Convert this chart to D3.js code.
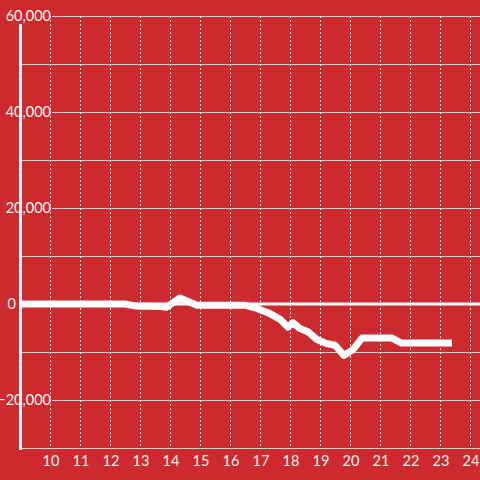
<!DOCTYPE html>
<html><head><meta charset="utf-8">
<script src="https://cdn.jsdelivr.net/npm/d3@7"></script>
<style>html,body{margin:0;padding:0;background:#cc2a2f;}svg{display:block;}</style>
</head><body>
<script>
const xVals = [9, 12.5, 12.83, 13.67, 13.87, 14.33, 14.9, 16.5, 16.83, 17.33, 17.67, 17.93, 18.1, 18.33, 18.6, 18.9, 19.2, 19.5, 19.8, 20.1, 20.4, 21.4, 21.7, 23.4];
const yVals = [0, 0, -400, -500, -700, 1250, -250, -250, -800, -2000, -3200, -4800, -3900, -5100, -5800, -7400, -8200, -8600, -10700, -9500, -7100, -7100, -8100, -8100];
const xTicks = [10,11,12,13,14,15,16,17,18,19,20,21,22,23,24];
const yTickLabels = [60000, 40000, 20000, 0, -20000];
const yGrid = [60000,50000,40000,30000,20000,10000,-10000,-20000,-30000];

const W=480,H=480, bg="#cc2a2f";
const x = d3.scaleLinear().domain([9, 24.333]).range([20, 480]);
const y = d3.scaleLinear().domain([-30000, 60000]).range([448, 16]);
const svg = d3.select("body").append("svg").attr("width",W).attr("height",H);
svg.append("rect").attr("width",W).attr("height",H).attr("fill",bg);

svg.selectAll(".hg").data(yGrid).enter().append("line")
  .attr("x1",d=>yTickLabels.includes(d)?52:20).attr("x2",480)
  .attr("y1",d=>y(d)+0.5).attr("y2",d=>y(d)+0.5)
  .attr("stroke","#cfcfcf").attr("stroke-width",1);
svg.selectAll(".vg").data(xTicks).enter().append("line")
  .attr("x1",d=>Math.round(x(d))+0.5).attr("x2",d=>Math.round(x(d))+0.5).attr("y1",16).attr("y2",448)
  .attr("stroke","#eeeeee").attr("stroke-width",1).attr("stroke-dasharray","2,2");

// y axis line
svg.append("line").attr("x1",20.5).attr("x2",20.5).attr("y1",24).attr("y2",450)
  .attr("stroke","#f2f2f2").attr("stroke-width",3);
// zero line
svg.append("line").attr("x1",22).attr("x2",480).attr("y1",y(0)).attr("y2",y(0))
  .attr("stroke","#f7f7f7").attr("stroke-width",3);

svg.selectAll(".yl").data(yTickLabels).enter().append("text")
  .attr("x",d=>d===0?16:51).attr("y",d=>y(d)+5).attr("text-anchor","end")
  .attr("font-family","Lato, sans-serif").attr("font-size",14.5).attr("fill","#f2f2f2")
  .text(d=>d3.format(",")(d));

svg.selectAll(".xl").data(xTicks).enter().append("text")
  .attr("x",d=>x(d)+1).attr("y",466).attr("text-anchor","middle")
  .attr("font-family","Lato, sans-serif").attr("font-size",14.5).attr("fill","#f2f2f2")
  .text(d=>d);

const line = d3.line().x((d,i)=>x(xVals[i])).y((d,i)=>y(yVals[i]));
svg.append("path").datum(yVals).attr("d",line).attr("fill","none")
  .attr("stroke","#ffffff").attr("stroke-width",7).attr("stroke-linejoin","round");
</script>
</body></html>
